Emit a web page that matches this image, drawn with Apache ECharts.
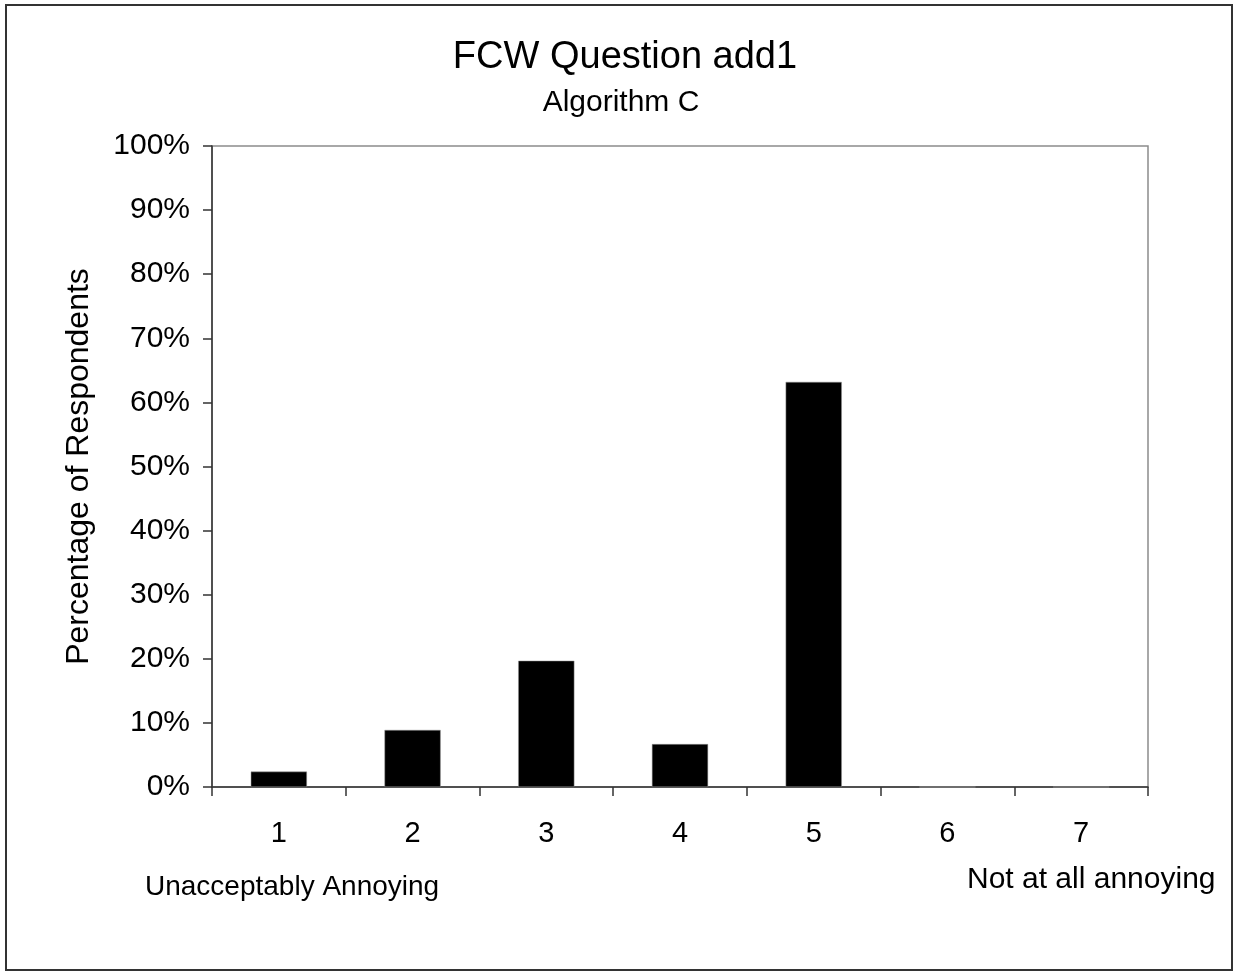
<!DOCTYPE html>
<html>
<head>
<meta charset="utf-8">
<script src="https://cdn.jsdelivr.net/npm/echarts@6/dist/echarts.min.js"></script>
<style>
html,body{margin:0;padding:0;background:#fff;}
#chart{width:1235px;height:974px;}
</style>
</head>
<body>
<div id="chart"></div>
<script>
const categories = ['1','2','3','4','5','6','7'];
const values = [2.4, 8.9, 19.7, 6.7, 63.2, 0, 0];
const yTicks = [0,10,20,30,40,50,60,70,80,90,100];

const chart = echarts.init(document.getElementById('chart'), null, {renderer:'canvas'});
const font = 'Liberation Sans, Arial, sans-serif';
chart.setOption({
  animation:false,
  backgroundColor:'#fff',
  grid:{left:212, right:87, top:146, bottom:187, show:true, borderColor:'#8c8c8c', borderWidth:1.5, backgroundColor:'#fff'},
  xAxis:{
    type:'category', data:categories,
    axisLine:{lineStyle:{color:'#333', width:1.5}},
    axisTick:{show:true, length:9, lineStyle:{color:'#333', width:1.5}},
    axisLabel:{fontFamily:font, fontSize:29, color:'#000', margin:32}
  },
  yAxis:{
    type:'value', min:0, max:100, interval:10,
    name:'Percentage of Respondents', nameLocation:'middle', nameGap:117,
    nameTextStyle:{fontFamily:font, fontSize:32, color:'#000'},
    axisLine:{show:true, lineStyle:{color:'#333', width:1.5}},
    axisTick:{show:true, length:9, lineStyle:{color:'#333', width:1.5}},
    splitLine:{show:false},
    axisLabel:{fontFamily:font, fontSize:30, color:'#000', margin:22,
      formatter:function(v){return yTicks.indexOf(v)>=0 ? v+'%' : '';}}
  },
  series:[{
    type:'bar', data:values, barWidth:'42%',
    itemStyle:{color:'#000', borderColor:'#999', borderWidth:0.5}
  }],
  graphic:[
    {type:'rect', shape:{x:6, y:5, width:1226, height:965}, style:{fill:'none', stroke:'#333', lineWidth:2}, silent:true, z:-1},
    {type:'text', x:625, y:58, style:{text:'FCW Question add1', font:'38px '+font, fill:'#000', textAlign:'center', textVerticalAlign:'middle'}},
    {type:'text', x:621, y:103, style:{text:'Algorithm C', font:'30px '+font, fill:'#000', textAlign:'center', textVerticalAlign:'middle'}},
    {type:'text', x:145, y:887, style:{text:'Unacceptably Annoying', font:'28px '+font, fill:'#000', textAlign:'left', textVerticalAlign:'middle'}},
    {type:'text', x:967, y:880, style:{text:'Not at all annoying', font:'30px '+font, fill:'#000', textAlign:'left', textVerticalAlign:'middle'}}
  ]
});
</script>
</body>
</html>
